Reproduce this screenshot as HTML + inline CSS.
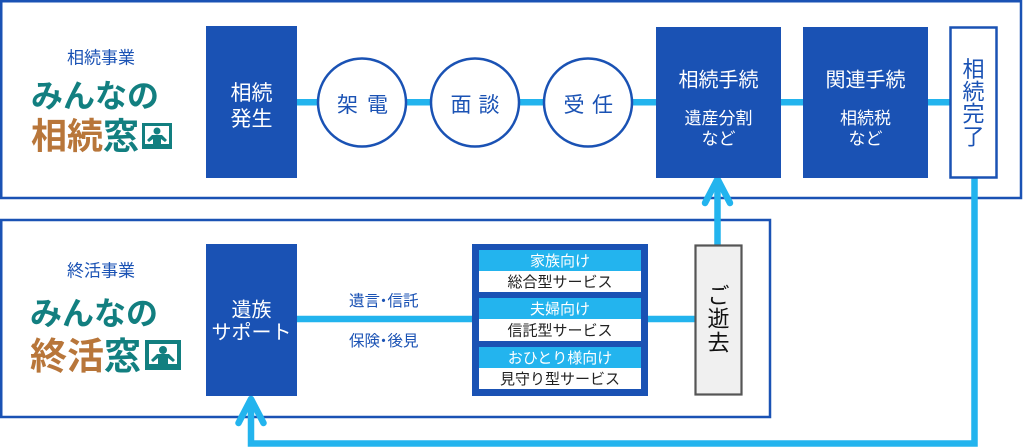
<!DOCTYPE html>
<html><head><meta charset="utf-8"><style>
html,body{margin:0;padding:0;background:#fff;}
svg{display:block;}
text{font-family:"Liberation Sans","Noto Sans CJK JP",sans-serif;}
</style></head><body>
<svg width="1024" height="447" viewBox="0 0 1024 447" xmlns="http://www.w3.org/2000/svg">
<!-- panels -->
<rect x="1.25" y="1.25" width="1019.75" height="196.75" fill="#fff" stroke="#1a52b4" stroke-width="2.5"/>
<rect x="1.25" y="220" width="768.75" height="197" fill="#fff" stroke="#1a52b4" stroke-width="2.5"/>

<!-- connectors -->
<g stroke="#23b4ee" stroke-width="6.5" fill="none">
<line x1="297" y1="102.3" x2="656" y2="102.3"/>
<line x1="781" y1="102.3" x2="803" y2="102.3"/>
<line x1="928" y1="102.3" x2="950" y2="102.3"/>
<line x1="297" y1="319" x2="695" y2="319"/>
<line x1="717.5" y1="245" x2="717.5" y2="180"/>
<path d="M974.5 178 V443.5 H251 V399"/>
<polyline points="705,203 717.5,179 730,203" stroke-linecap="round" stroke-linejoin="round"/>
<polyline points="238.5,423 251,399 263.5,423" stroke-linecap="round" stroke-linejoin="round"/>
</g>

<!-- top boxes -->
<rect x="206" y="26" width="91" height="152" fill="#1a52b4"/>
<circle cx="362" cy="102.5" r="44" fill="#fff" stroke="#1a52b4" stroke-width="2.5"/>
<circle cx="475" cy="102.5" r="44" fill="#fff" stroke="#1a52b4" stroke-width="2.5"/>
<circle cx="588" cy="102.5" r="44" fill="#fff" stroke="#1a52b4" stroke-width="2.5"/>
<rect x="656" y="27" width="125" height="151" fill="#1a52b4"/>
<rect x="803" y="27" width="125" height="151" fill="#1a52b4"/>
<rect x="950.5" y="27.5" width="46" height="150" fill="#fff" stroke="#1a52b4" stroke-width="2.5"/>

<!-- lower boxes -->
<rect x="206" y="244" width="91" height="152" fill="#1a52b4"/>
<rect x="472" y="244" width="176" height="152" fill="#1a52b4"/>
<rect x="479" y="250" width="162" height="21" fill="#23b4ee"/>
<rect x="479" y="271" width="162" height="21" fill="#fff"/>
<rect x="479" y="298" width="162" height="21" fill="#23b4ee"/>
<rect x="479" y="319" width="162" height="22" fill="#fff"/>
<rect x="479" y="347" width="162" height="21" fill="#23b4ee"/>
<rect x="479" y="368" width="162" height="21" fill="#fff"/>
<rect x="695.5" y="245.5" width="46" height="149" fill="#f0f0f0" stroke="#555" stroke-width="2.2"/>

<!-- logo top -->
<text x="101" y="63.5" font-size="17" fill="#1a52b4" text-anchor="middle">相続事業</text>
<text x="31" y="107" font-size="32" font-weight="700" fill="#127f80">みんなの</text>
<text x="31" y="148.7" font-size="36" font-weight="700" fill="#b8763a">相続</text>
<text x="103" y="148.7" font-size="36" font-weight="700" fill="#127f80">窓</text>
<g>
<rect x="142" y="123" width="30" height="26" fill="#127f80"/>
<rect x="145" y="126" width="24" height="18" fill="#fff"/>
<circle cx="157" cy="131" r="3.5" fill="#127f80"/>
<polygon points="147,140 152,135 162,135 167,140 165,142 161,139 161,144 153,144 153,139 149,142" fill="#127f80"/>
</g>

<!-- logo bottom -->
<text x="101" y="276.5" font-size="17" fill="#1a52b4" text-anchor="middle">終活事業</text>
<text x="30" y="324.7" font-size="32" font-weight="700" fill="#127f80">みんなの</text>
<text x="30" y="369" font-size="37" font-weight="700" fill="#b8763a">終活</text>
<text x="104" y="369" font-size="37" font-weight="700" fill="#127f80">窓</text>
<g>
<rect x="145" y="340" width="36" height="30" fill="#127f80"/>
<rect x="149" y="344" width="28" height="20" fill="#fff"/>
<circle cx="163" cy="350" r="4" fill="#127f80"/>
<polygon points="151,360 157,354 169,354 175,360 173,362 168,358 168,364 158,364 158,358 153,362" fill="#127f80"/>
</g>

<!-- top texts -->
<g fill="#fff" text-anchor="middle">
<text x="251.5" y="100" font-size="21">相続</text>
<text x="251.5" y="126" font-size="21">発生</text>
<text x="718.5" y="86.6" font-size="20">相続手続</text>
<text x="718.5" y="124" font-size="17">遺産分割</text>
<text x="718.5" y="144.5" font-size="17">など</text>
<text x="865.5" y="86.6" font-size="20">関連手続</text>
<text x="865.5" y="124" font-size="17">相続税</text>
<text x="865.5" y="144.5" font-size="17">など</text>
</g>
<g fill="#1a52b4" text-anchor="middle" font-size="21">
<text x="347.5" y="112">架</text>
<text x="377.5" y="112">電</text>
<text x="461" y="112">面</text>
<text x="489" y="112">談</text>
<text x="574" y="112">受</text>
<text x="602.5" y="112">任</text>
</g>
<g fill="#1a52b4" text-anchor="middle" font-size="22">
<text x="973.5" y="76.9">相</text>
<text x="973.5" y="99.4">続</text>
<text x="973.5" y="121.4">完</text>
<text x="973.5" y="144.4">了</text>
</g>

<!-- lower texts -->
<g fill="#fff" text-anchor="middle">
<text x="251.5" y="316.6" font-size="20">遺族</text>
<text x="251.5" y="339" font-size="20">サポート</text>
</g>
<g fill="#1a52b4" text-anchor="middle" font-size="15.5">
<text x="364.5" y="305.9">遺言</text>
<text x="383.5" y="305.9">・</text>
<text x="403" y="305.9">信託</text>
<text x="364.5" y="345.9">保険</text>
<text x="383.5" y="345.9">・</text>
<text x="403" y="345.9">後見</text>
</g>
<g text-anchor="middle" font-size="15">
<text x="560" y="266.2" fill="#fff">家族向け</text>
<text x="560" y="287.2" fill="#222">総合型サービス</text>
<text x="560" y="314.2" fill="#fff">夫婦向け</text>
<text x="560" y="335.7" fill="#222">信託型サービス</text>
<text x="560" y="363.2" fill="#fff">おひとり様向け</text>
<text x="560" y="384.2" fill="#222">見守り型サービス</text>
</g>
<g fill="#111" text-anchor="middle" font-size="22">
<text x="718.5" y="303.4">ご</text>
<text x="718.5" y="326.4">逝</text>
<text x="718.5" y="350.4">去</text>
</g>
</svg>
</body></html>
